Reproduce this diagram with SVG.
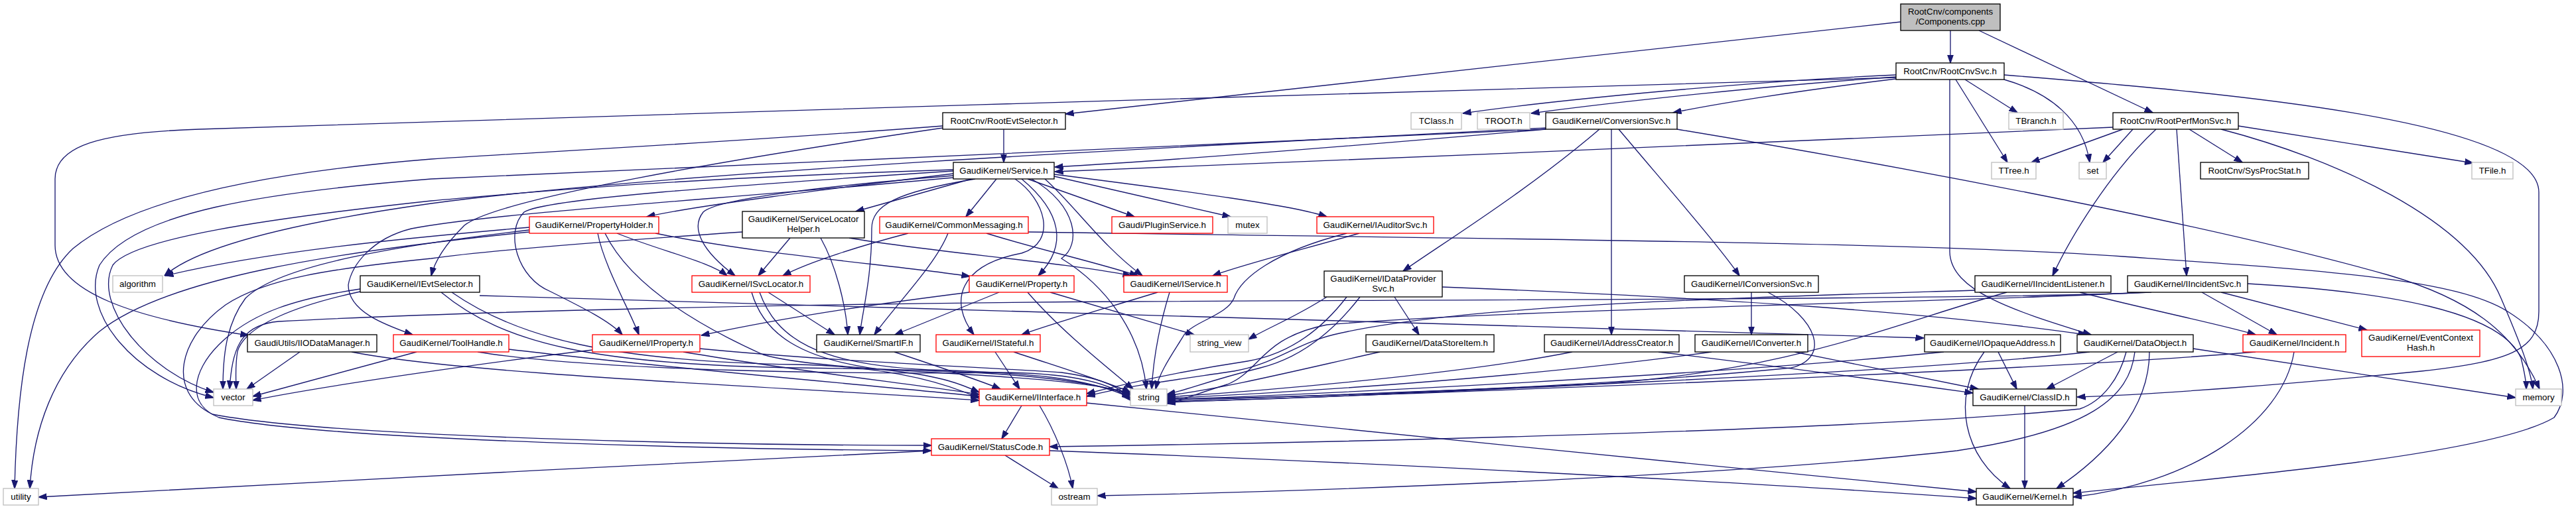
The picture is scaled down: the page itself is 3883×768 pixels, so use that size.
<svg xmlns="http://www.w3.org/2000/svg" width="3883" height="768" viewBox="0 0 3883 768">
<defs>
<style>
.n rect{fill:#fff;stroke:#000;stroke-width:1.33}
.r rect{stroke:#ff0000}
.g rect{stroke:#bfbfbf}
.root rect{fill:#bfbfbf}
text{font-family:"Liberation Sans",Arial,Helvetica,sans-serif;font-size:13.33px;text-anchor:middle;fill:#000}
.e path{fill:none;stroke:#191970;stroke-width:1.33;marker-end:url(#a)}
</style>
<marker id="a" viewBox="0 0 13 10" refX="12.5" refY="5" markerWidth="13" markerHeight="10" orient="auto" markerUnits="userSpaceOnUse"><path d="M0,0.5 L13,5 L0,9.5 Z" fill="#191970" stroke="#191970" stroke-width="1"/></marker>
</defs>
<rect x="0" y="0" width="3883" height="768" fill="#fff"/>
<g id="edges" class="e">
<path d="M2940,46 L2940,95"/>
<path d="M2865,33 L1606,172"/>
<path d="M2983,46 L3245,170"/>
<path d="M2858,113 C2650,122 2350,150 2205,171"/>
<path d="M2858,116 C2680,128 2450,152 2308,171"/>
<path d="M2858,119 C2700,138 2580,158 2522,170"/>
<path d="M2962,120 L3041,170"/>
<path d="M2948,120 L3026,245"/>
<path d="M3021,120 C3090,140 3140,180 3150,245"/>
<path d="M2939,120 L2939,380 C2940,440 3040,470 3152,505"/>
<path d="M3021,113 C3350,140 3827,180 3827,290 L3827,470 C3827,530 3780,545 3650,560 C3450,580 3250,595 3131,599"/>
<path d="M2858,117 C2300,135 1000,170 300,195 C150,200 83,220 83,270 L83,370 C83,440 200,480 375,506"/>
<path d="M1513,195 L1513,245"/>
<path d="M1421,193 C1100,240 750,300 700,340 C670,370 655,395 650,416"/>
<path d="M1421,190 C1100,215 800,230 650,240 C400,260 200,300 110,375 C40,440 25,600 22,737"/>
<path d="M3185,192 C2700,212 2100,240 1590,259"/>
<path d="M3200,195 L3062,245"/>
<path d="M3215,195 L3170,245"/>
<path d="M3300,195 L3380,245"/>
<path d="M3374,190 L3728,246"/>
<path d="M3348,195 C3520,240 3720,330 3770,450 C3800,520 3815,560 3818,587"/>
<path d="M3250,195 C3180,260 3120,360 3094,416"/>
<path d="M3281,195 L3296,416"/>
<path d="M2330,195 C2100,215 1800,240 1590,252"/>
<path d="M2440,195 C2520,290 2590,370 2622,416"/>
<path d="M2429,195 L2429,505"/>
<path d="M2411,195 C2300,290 2170,370 2115,409"/>
<path d="M2528,195 C2800,240 3300,330 3600,415 C3720,450 3790,500 3828,587"/>
<path d="M2330,193 C1800,220 1000,260 650,307 C450,335 300,370 248,416"/>
<path d="M2330,195 C1700,225 900,255 650,270 C400,290 200,320 150,400 C120,470 200,570 322,600"/>
<path d="M1437,262 C1250,285 1050,310 975,327"/>
<path d="M1464,270 L1290,319"/>
<path d="M1502,270 L1456,327"/>
<path d="M1549,270 L1710,327"/>
<path d="M1589,266 L1855,327"/>
<path d="M1589,263 C1800,290 1950,310 2000,327"/>
<path d="M1530,270 C1575,300 1595,365 1540,382 C1445,400 1430,455 1468,505"/>
<path d="M1555,270 C1625,310 1630,370 1600,390 C1665,430 1720,500 1728,587"/>
<path d="M1540,270 C1600,320 1610,370 1565,416"/>
<path d="M1437,265 C1250,280 1080,300 1060,320 C1040,345 1060,380 1108,416"/>
<path d="M1437,258 C1100,280 820,300 790,320 C760,350 780,420 830,440 C880,465 920,485 938,505"/>
<path d="M1437,268 C1100,300 750,320 620,345 C560,360 530,400 525,430 C525,470 580,490 622,505"/>
<path d="M1437,256 C1000,270 800,290 650,303 C400,330 200,360 170,400 C140,460 220,560 322,592"/>
<path d="M1575,270 C1620,310 1660,370 1722,416"/>
<path d="M1470,270 C1350,290 1314,310 1314,345 C1314,420 1300,470 1296,505"/>
<path d="M901,352 C910,400 950,470 963,505"/>
<path d="M930,352 C1000,380 1070,395 1096,416"/>
<path d="M988,352 C1150,385 1350,400 1462,417"/>
<path d="M798,343 C600,360 400,380 249,416"/>
<path d="M798,347 C600,370 420,400 370,450 C340,490 336,540 336,587"/>
<path d="M798,350 C500,380 250,420 150,500 C80,560 50,650 45,737"/>
<path d="M912,352 C950,430 1050,490 1150,535 C1250,565 1600,560 1704,594"/>
<path d="M1191,359 L1143,416"/>
<path d="M1237,359 C1260,400 1275,460 1278,505"/>
<path d="M1280,359 C1400,380 1600,395 1705,416"/>
<path d="M1119,350 C900,365 720,380 650,390 C500,405 400,420 340,460 C270,510 250,590 320,625 C500,660 1100,672 1404,672"/>
<path d="M1369,352 C1300,370 1220,395 1180,416"/>
<path d="M1429,352 C1410,400 1350,460 1318,505"/>
<path d="M1487,352 C1560,375 1650,395 1715,416"/>
<path d="M1550,350 C2200,360 2900,365 3200,387 C3500,408 3700,420 3780,470 C3860,520 3880,590 3850,630 C3750,690 3300,725 3125,744"/>
<path d="M2049,352 C1950,380 1870,400 1828,416"/>
<path d="M2030,352 C1920,380 1870,420 1860,450 C1850,475 1800,485 1785,505 C1770,530 1748,560 1742,587"/>
<path d="M723,446 C1500,470 2500,495 2900,510"/>
<path d="M681,441 C780,510 920,545 1200,550 C1350,553 1430,580 1476,601"/>
<path d="M665,441 C760,520 900,550 1200,555 C1450,558 1620,565 1704,596"/>
<path d="M543,436 C450,450 380,470 330,520 C290,560 280,610 330,630 C500,665 1100,678 1404,680"/>
<path d="M543,440 C450,460 370,490 358,530 C354,555 356,575 356,587"/>
<path d="M1133,441 C1150,500 1200,545 1350,560 C1420,568 1450,580 1476,592"/>
<path d="M1145,441 C1170,510 1230,550 1400,558 C1550,562 1640,570 1704,600"/>
<path d="M1158,441 L1258,505"/>
<path d="M1461,441 C1350,455 1200,475 1057,506"/>
<path d="M1506,441 L1349,505"/>
<path d="M1549,441 C1600,500 1670,555 1708,587"/>
<path d="M1583,441 L1800,505"/>
<path d="M1745,441 C1650,470 1580,490 1540,505"/>
<path d="M1763,441 C1745,500 1738,550 1736,587"/>
<path d="M2102,448 L2139,505"/>
<path d="M2174,433 C2600,450 2900,470 3145,505"/>
<path d="M2030,448 C1990,500 1940,535 1880,545 C1780,560 1700,578 1638,594"/>
<path d="M2050,448 C2010,500 1960,540 1900,555 C1820,575 1790,588 1759,595"/>
<path d="M2000,448 C1950,480 1910,495 1882,512"/>
<path d="M2640,441 L2640,505"/>
<path d="M2665,441 C2740,480 2760,540 2700,555 C2400,585 1950,600 1759,602"/>
<path d="M3135,441 C3250,470 3350,490 3400,505"/>
<path d="M2977,438 C2600,450 2200,460 2010,505 C1950,520 1920,550 1860,560 C1780,572 1700,582 1638,598"/>
<path d="M3025,441 C2850,490 2700,560 2400,580 C2100,595 1900,604 1759,606"/>
<path d="M3319,441 L3432,505"/>
<path d="M3348,441 L3568,498"/>
<path d="M3388,428 C3600,440 3770,470 3800,540 C3805,560 3808,575 3808,587"/>
<path d="M3230,441 C3000,455 2300,465 2000,490 C1900,510 1900,560 1850,580 C1800,595 1780,605 1759,609"/>
<path d="M3243,441 C3000,452 2200,452 1700,455 C1200,458 700,470 420,485 C360,490 350,530 346,587"/>
<path d="M452,531 L372,587"/>
<path d="M530,531 C700,565 1200,585 1476,604"/>
<path d="M628,531 L381,598"/>
<path d="M767,527 C1000,555 1300,580 1476,598"/>
<path d="M720,531 C900,560 1300,565 1500,562 C1620,562 1680,580 1704,604"/>
<path d="M893,528 C750,545 500,580 381,604"/>
<path d="M1030,531 C1200,560 1380,580 1476,595"/>
<path d="M1055,526 C1250,545 1500,555 1600,562 C1660,570 1690,585 1704,602"/>
<path d="M1348,531 C1420,555 1480,575 1508,587"/>
<path d="M1500,531 L1537,587"/>
<path d="M1528,531 C1600,555 1680,580 1704,592"/>
<path d="M2080,531 C1950,560 1850,585 1759,597"/>
<path d="M2500,531 C2700,555 2880,580 2974,593"/>
<path d="M2370,531 C2200,565 1900,590 1759,599"/>
<path d="M2705,531 C2800,550 2900,570 2982,587"/>
<path d="M2580,531 C2300,570 1950,592 1759,601"/>
<path d="M3012,531 L3040,587"/>
<path d="M2991,531 C2940,600 2960,690 3030,737"/>
<path d="M2930,531 C2600,565 2000,594 1759,603"/>
<path d="M3192,531 L3085,587"/>
<path d="M3240,531 C3240,620 3170,690 3100,737"/>
<path d="M3205,531 C3195,570 3170,605 3135,617 C2800,650 2000,668 1582,674"/>
<path d="M3218,531 C3210,600 3150,650 2950,680 C2600,720 1950,742 1654,748"/>
<path d="M3306,526 L3792,600"/>
<path d="M3150,531 C2800,570 2000,596 1759,605"/>
<path d="M3458,531 C3440,640 3300,730 3125,750"/>
<path d="M3400,531 C3000,565 2000,598 1759,607"/>
<path d="M1540,612 L1510,662"/>
<path d="M1567,612 C1590,650 1610,700 1617,737"/>
<path d="M1638,608 C2000,645 2600,705 2979,742"/>
<path d="M1515,687 L1595,737"/>
<path d="M1404,680 C1000,700 400,730 58,750"/>
<path d="M1582,680 C2000,695 2600,725 2979,752"/>
<path d="M3052,612 L3052,737"/>
</g>
<g id="n-comp" class="n root"><rect x="2865" y="6" width="150" height="40"/><text x="2940" y="22">RootCnv/components</text><text x="2940" y="37">/Components.cpp</text></g>
<g id="n-rcs" class="n"><rect x="2858" y="95" width="163" height="25"/><text x="2939.5" y="111.5">RootCnv/RootCnvSvc.h</text></g>
<g id="n-res" class="n"><rect x="1421" y="170" width="185" height="25"/><text x="1513.5" y="186.5">RootCnv/RootEvtSelector.h</text></g>
<g id="n-tclass" class="n g"><rect x="2127" y="170" width="76" height="25"/><text x="2165" y="186.5">TClass.h</text></g>
<g id="n-troot" class="n g"><rect x="2227" y="170" width="79" height="25"/><text x="2266.5" y="186.5">TROOT.h</text></g>
<g id="n-cnvsvc" class="n"><rect x="2330" y="170" width="198" height="25"/><text x="2429" y="186.5">GaudiKernel/ConversionSvc.h</text></g>
<g id="n-tbranch" class="n g"><rect x="3028" y="170" width="82" height="25"/><text x="3069" y="186.5">TBranch.h</text></g>
<g id="n-rpm" class="n"><rect x="3185" y="170" width="189" height="25"/><text x="3279.5" y="186.5">RootCnv/RootPerfMonSvc.h</text></g>
<g id="n-svc" class="n"><rect x="1437" y="245" width="152" height="25"/><text x="1513" y="261.5">GaudiKernel/Service.h</text></g>
<g id="n-ttree" class="n g"><rect x="3002" y="245" width="67" height="25"/><text x="3035.5" y="261.5">TTree.h</text></g>
<g id="n-set" class="n g"><rect x="3134" y="245" width="41" height="25"/><text x="3154.5" y="261.5">set</text></g>
<g id="n-sps" class="n"><rect x="3317" y="245" width="163" height="25"/><text x="3398.5" y="261.5">RootCnv/SysProcStat.h</text></g>
<g id="n-tfile" class="n g"><rect x="3726" y="245" width="62" height="25"/><text x="3757" y="261.5">TFile.h</text></g>
<g id="n-ph" class="n r"><rect x="798" y="327" width="195" height="25"/><text x="895.5" y="343.5">GaudiKernel/PropertyHolder.h</text></g>
<g id="n-slh" class="n"><rect x="1119" y="319" width="184" height="40"/><text x="1211" y="335">GaudiKernel/ServiceLocator</text><text x="1211" y="350">Helper.h</text></g>
<g id="n-cm" class="n r"><rect x="1326" y="327" width="224" height="25"/><text x="1438" y="343.5">GaudiKernel/CommonMessaging.h</text></g>
<g id="n-plugin" class="n r"><rect x="1676" y="327" width="152" height="25"/><text x="1752" y="343.5">Gaudi/PluginService.h</text></g>
<g id="n-mutex" class="n g"><rect x="1851" y="327" width="59" height="25"/><text x="1880.5" y="343.5">mutex</text></g>
<g id="n-ias" class="n r"><rect x="1985" y="327" width="176" height="25"/><text x="2073" y="343.5">GaudiKernel/IAuditorSvc.h</text></g>
<g id="n-algo" class="n g"><rect x="170" y="416" width="75" height="25"/><text x="207.5" y="432.5">algorithm</text></g>
<g id="n-ies" class="n"><rect x="543" y="416" width="180" height="25"/><text x="633" y="432.5">GaudiKernel/IEvtSelector.h</text></g>
<g id="n-isl" class="n r"><rect x="1043" y="416" width="178" height="25"/><text x="1132" y="432.5">GaudiKernel/ISvcLocator.h</text></g>
<g id="n-prop" class="n r"><rect x="1461" y="416" width="158" height="25"/><text x="1540" y="432.5">GaudiKernel/Property.h</text></g>
<g id="n-isvc" class="n r"><rect x="1694" y="416" width="156" height="25"/><text x="1772" y="432.5">GaudiKernel/IService.h</text></g>
<g id="n-idp" class="n"><rect x="1996" y="409" width="178" height="39"/><text x="2085" y="425">GaudiKernel/IDataProvider</text><text x="2085" y="440">Svc.h</text></g>
<g id="n-icnv" class="n"><rect x="2539" y="416" width="202" height="25"/><text x="2640" y="432.5">GaudiKernel/IConversionSvc.h</text></g>
<g id="n-iil" class="n"><rect x="2977" y="416" width="205" height="25"/><text x="3079.5" y="432.5">GaudiKernel/IIncidentListener.h</text></g>
<g id="n-iis" class="n"><rect x="3207" y="416" width="181" height="25"/><text x="3297.5" y="432.5">GaudiKernel/IIncidentSvc.h</text></g>
<g id="n-iio" class="n"><rect x="373" y="505" width="195" height="26"/><text x="470.5" y="521.5">GaudiUtils/IIODataManager.h</text></g>
<g id="n-th" class="n r"><rect x="593" y="505" width="174" height="26"/><text x="680" y="521.5">GaudiKernel/ToolHandle.h</text></g>
<g id="n-iprop" class="n r"><rect x="893" y="505" width="162" height="26"/><text x="974" y="521.5">GaudiKernel/IProperty.h</text></g>
<g id="n-sif" class="n"><rect x="1231" y="505" width="156" height="26"/><text x="1309" y="521.5">GaudiKernel/SmartIF.h</text></g>
<g id="n-ist" class="n r"><rect x="1411" y="505" width="157" height="26"/><text x="1489.5" y="521.5">GaudiKernel/IStateful.h</text></g>
<g id="n-sv" class="n g"><rect x="1794" y="505" width="88" height="26"/><text x="1838" y="521.5">string_view</text></g>
<g id="n-dsi" class="n"><rect x="2059" y="505" width="193" height="26"/><text x="2155.5" y="521.5">GaudiKernel/DataStoreItem.h</text></g>
<g id="n-iac" class="n"><rect x="2328" y="505" width="203" height="26"/><text x="2429.5" y="521.5">GaudiKernel/IAddressCreator.h</text></g>
<g id="n-icv" class="n"><rect x="2555" y="505" width="170" height="26"/><text x="2640" y="521.5">GaudiKernel/IConverter.h</text></g>
<g id="n-ioa" class="n"><rect x="2901" y="505" width="205" height="26"/><text x="3003.5" y="521.5">GaudiKernel/IOpaqueAddress.h</text></g>
<g id="n-dob" class="n"><rect x="3131" y="505" width="175" height="26"/><text x="3218.5" y="521.5">GaudiKernel/DataObject.h</text></g>
<g id="n-inc" class="n r"><rect x="3381" y="505" width="155" height="26"/><text x="3458.5" y="521.5">GaudiKernel/Incident.h</text></g>
<g id="n-ech" class="n r"><rect x="3560" y="498" width="178" height="40"/><text x="3649" y="514">GaudiKernel/EventContext</text><text x="3649" y="529">Hash.h</text></g>
<g id="n-vec" class="n g"><rect x="322" y="587" width="59" height="25"/><text x="351.5" y="603.5">vector</text></g>
<g id="n-iif" class="n r"><rect x="1476" y="587" width="162" height="25"/><text x="1557" y="603.5">GaudiKernel/IInterface.h</text></g>
<g id="n-str" class="n g"><rect x="1704" y="587" width="55" height="25"/><text x="1731.5" y="603.5">string</text></g>
<g id="n-cid" class="n"><rect x="2974" y="587" width="156" height="25"/><text x="3052" y="603.5">GaudiKernel/ClassID.h</text></g>
<g id="n-mem" class="n g"><rect x="3792" y="587" width="69" height="25"/><text x="3826.5" y="603.5">memory</text></g>
<g id="n-sc" class="n r"><rect x="1404" y="662" width="178" height="25"/><text x="1493" y="678.5">GaudiKernel/StatusCode.h</text></g>
<g id="n-util" class="n g"><rect x="5" y="737" width="53" height="25"/><text x="31.5" y="753.5">utility</text></g>
<g id="n-ost" class="n g"><rect x="1585" y="737" width="69" height="25"/><text x="1619.5" y="753.5">ostream</text></g>
<g id="n-ker" class="n"><rect x="2979" y="737" width="146" height="25"/><text x="3052" y="753.5">GaudiKernel/Kernel.h</text></g>
</svg>
